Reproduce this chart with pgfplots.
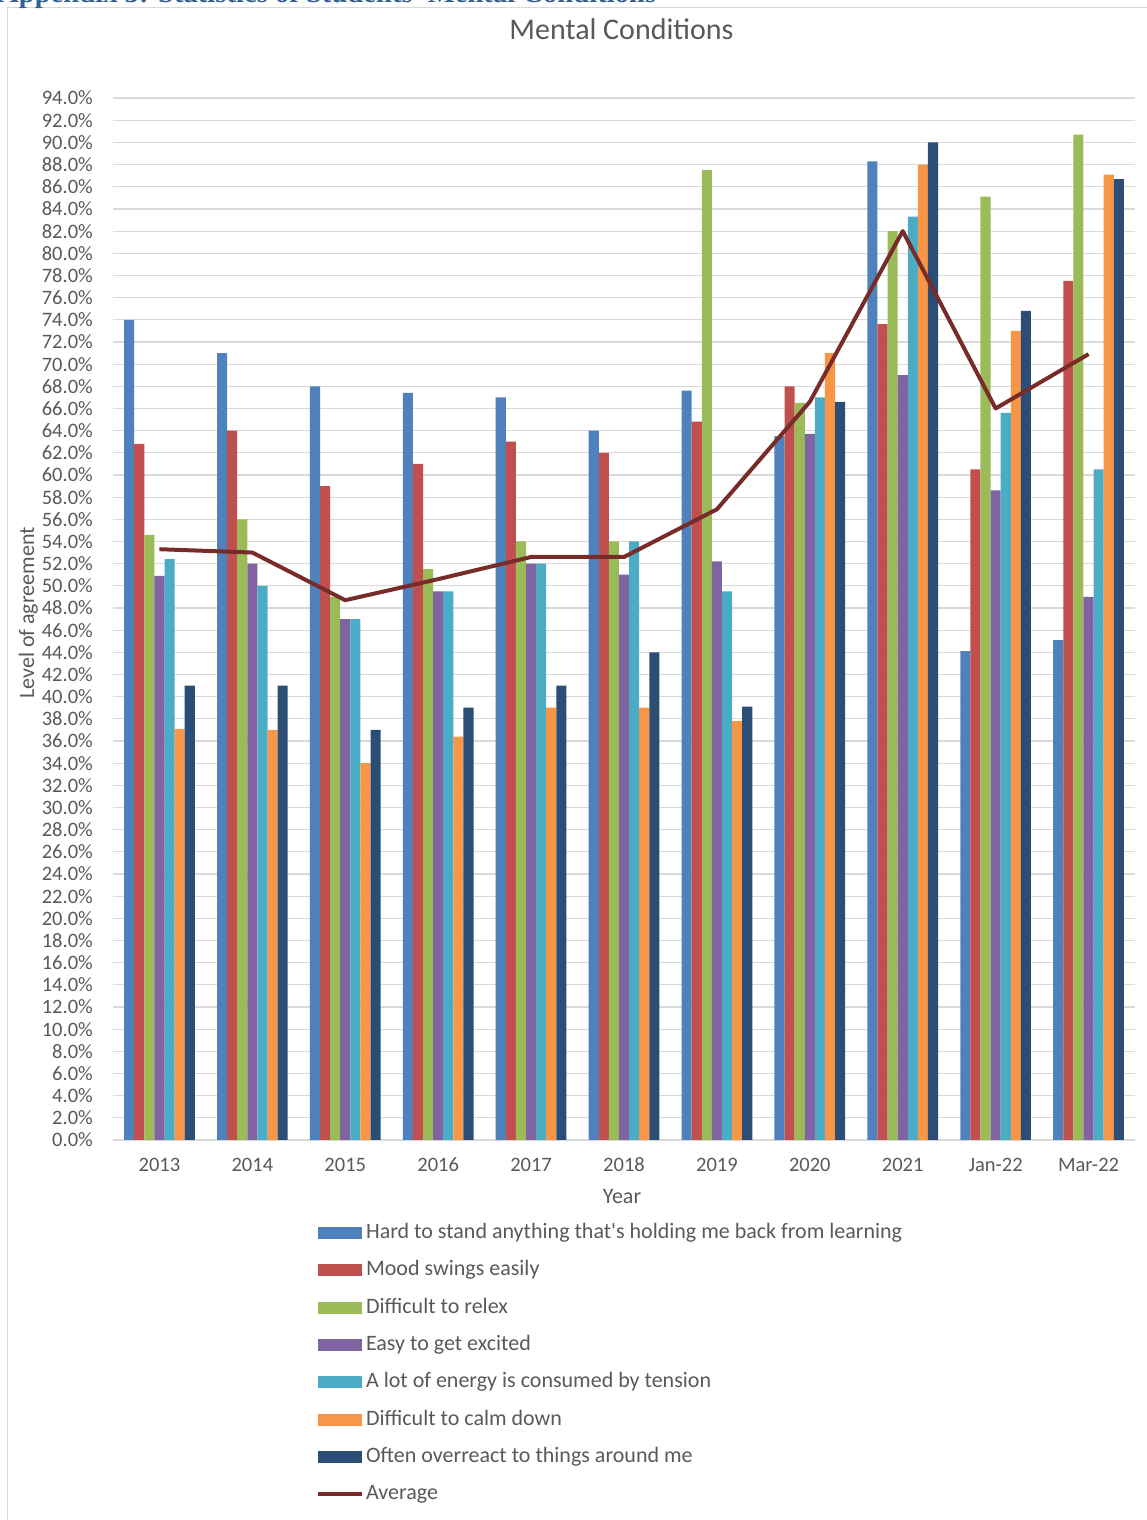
\documentclass[border=0pt]{standalone}
\usepackage{graphicx}
\usepackage{pgfplots}
\usepackage{pgfplotstable}
\pgfplotsset{compat=1.18}
\usepackage{fontspec}
\setmainfont{Carlito}[Ligatures=TeXOff]
\newfontfamily\headfont{Liberation Serif}[Ligatures=TeXOff]

\definecolor{s1}{HTML}{4F81BD}
\definecolor{s2}{HTML}{C0504D}
\definecolor{s3}{HTML}{9BBB59}
\definecolor{s4}{HTML}{8064A2}
\definecolor{s5}{HTML}{4BACC6}
\definecolor{s6}{HTML}{F79646}
\definecolor{s7}{HTML}{2C4D75}
\definecolor{avgline}{HTML}{772C2A}
\definecolor{txtgray}{HTML}{595959}
\definecolor{gridgray}{HTML}{D9D9D9}
\definecolor{headblue}{HTML}{365F91}

% Share of students agreeing (%), one row per survey wave
\pgfplotstableread{
x  hard mood relax excited energy calm overreact avg
0  74.0 62.8 54.6  50.9    52.4   37.1 41.0      53.3
1  71.0 64.0 56.0  52.0    50.0   37.0 41.0      53.0
2  68.0 59.0 49.0  47.0    47.0   34.0 37.0      48.7
3  67.4 61.0 51.5  49.5    49.5   36.4 39.0      50.6
4  67.0 63.0 54.0  52.0    52.0   39.0 41.0      52.6
5  64.0 62.0 54.0  51.0    54.0   39.0 44.0      52.6
6  67.6 64.8 87.5  52.2    49.5   37.8 39.1      56.9
7  63.5 68.0 66.5  63.7    67.0   71.0 66.6      66.6
8  88.3 73.6 82.0  69.0    83.3   88.0 90.0      82.0
9  44.1 60.5 85.1  58.6    65.6   73.0 74.8      66.0
10 45.1 77.5 90.7  49.0    60.5   87.1 86.7      70.9
}\mental

\pgfplotsset{
  barlegend/.style={legend image code/.code={\fill[##1] (0pt,-6pt) rectangle (44pt,6pt);}},
  linelegend/.style={legend image code/.code={\draw[##1] (0pt,0pt) -- (44pt,0pt);}},
  mybar/.style 2 args={ybar, bar width=10.1pt, bar shift=#1, fill=#2, draw=none, barlegend},
}

\begin{document}
\begin{tikzpicture}[x=1pt,y=1pt]
% chart frame
\draw[gridgray, line width=1.2pt] (7.5pt,-5pt) -- (7.5pt,1512.5pt) -- (1160pt,1512.5pt);
% section heading above the chart
\node[anchor=base west, inner sep=0pt, text=headblue] at (-2pt,1517pt)
  {\resizebox{658pt}{!}{\headfont\bfseries Appendix 3: Statistics of Students' Mental Conditions}};

\begin{axis}[
  at={(113pt,380pt)}, anchor=south west,
  scale only axis, width=1022pt, height=1042pt,
  xmin=-0.5, xmax=10.5, ymin=0, ymax=94,
  xtick={0,...,10},
  xticklabels={2013,2014,2015,2016,2017,2018,2019,2020,2021,Jan-22,Mar-22},
  ytick={0,2,...,94},
  yticklabel={\pgfmathprintnumber[fixed,fixed zerofill,precision=1]{\tick}\%},
  /pgf/number format/assume math mode=true,
  ymajorgrids, grid style={gridgray, line width=1.2pt},
  axis line style={draw=none},
  major tick length=0pt,
  tick label style={font=\fontsize{20.5}{24}\selectfont, text=txtgray},
  yticklabel style={anchor=east, inner sep=0pt, xshift=-20pt},
  xticklabel style={anchor=base, inner sep=0pt, yshift=-31.5pt},
  legend cell align=left,
  legend style={
    at={(axis description cs:0.1987,-0.0792)}, anchor=north west,
    draw=none, fill=none, inner sep=0pt, outer sep=0pt,
    font=\fontsize{22}{26}\selectfont, text=txtgray,
    row sep=16.3pt, column sep=2pt,
    nodes={inner sep=0pt, text height=16pt, text depth=5pt},
  },
]
\addplot[mybar={-30.3pt}{s1}] table[x=x,y=hard]{\mental};
\addlegendentry{Hard to stand anything that's holding me back from learning}
\addplot[mybar={-20.2pt}{s2}] table[x=x,y=mood]{\mental};
\addlegendentry{Mood swings easily}
\addplot[mybar={-10.1pt}{s3}] table[x=x,y=relax]{\mental};
\addlegendentry{Difficult to relex}
\addplot[mybar={0pt}{s4}] table[x=x,y=excited]{\mental};
\addlegendentry{Easy to get excited}
\addplot[mybar={10.1pt}{s5}] table[x=x,y=energy]{\mental};
\addlegendentry{A lot of energy is consumed by tension}
\addplot[mybar={20.2pt}{s6}] table[x=x,y=calm]{\mental};
\addlegendentry{Difficult to calm down}
\addplot[mybar={30.3pt}{s7}] table[x=x,y=overreact]{\mental};
\addlegendentry{Often overreact to things around me}
\addplot[sharp plot, color=avgline, line width=4pt, line join=round, mark=none, linelegend]
  table[x=x,y=avg]{\mental};
\addlegendentry{Average}
\end{axis}

\node[anchor=base, font=\fontsize{30}{36}\selectfont, text=txtgray] at (621.5pt,1480pt) {Mental Conditions};
\node[rotate=90, anchor=base, font=\fontsize{22}{26}\selectfont, text=txtgray] at (34pt,907pt) {Level of agreement};
\node[anchor=base, font=\fontsize{22}{26}\selectfont, text=txtgray] at (622pt,316pt) {Year};

\pgfresetboundingbox
\useasboundingbox (0pt,0pt) rectangle (1147pt,1520pt);
\end{tikzpicture}
\end{document}
